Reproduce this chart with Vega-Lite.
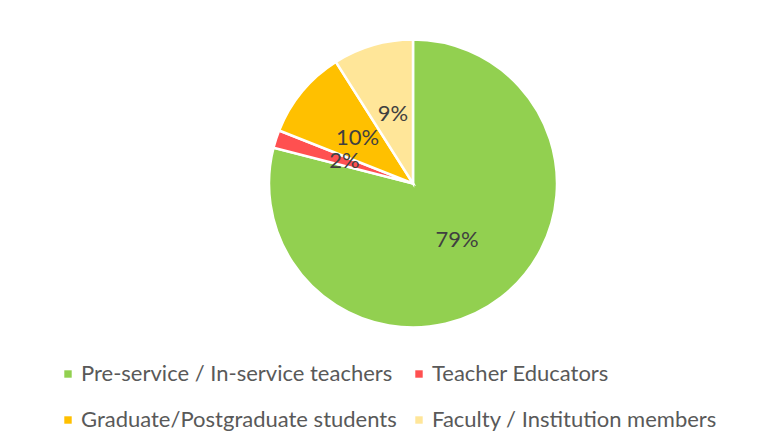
{
  "$schema": "https://vega.github.io/schema/vega-lite/v6.json",
  "width": 740,
  "height": 367,
  "autosize": {"type": "none"},
  "padding": {"left": 43, "top": 0, "right": 0, "bottom": 80},
  "background": "white",
  "config": {"view": {"stroke": null}, "font": "Lato"},
  "data": {
    "values": [
      {"category": "Pre-service / In-service teachers", "value": 79, "order": 1, "label": "79%"},
      {"category": "Teacher Educators", "value": 2, "order": 2, "label": "2%"},
      {"category": "Graduate/Postgraduate students", "value": 10, "order": 3, "label": "10%"},
      {"category": "Faculty / Institution members", "value": 9, "order": 4, "label": "9%"}
    ]
  },
  "encoding": {
    "theta": {"field": "value", "type": "quantitative", "stack": true},
    "order": {"field": "order", "type": "quantitative"},
    "color": {
      "field": "category",
      "type": "nominal",
      "scale": {
        "domain": ["Pre-service / In-service teachers", "Teacher Educators", "Graduate/Postgraduate students", "Faculty / Institution members"],
        "range": ["#92D050", "#FF5050", "#FFC000", "#FFE699"]
      },
      "legend": {
        "orient": "none",
        "legendX": 14,
        "legendY": 363,
        "columns": 2,
        "direction": "horizontal",
        "title": null,
        "symbolType": "square",
        "symbolSize": 55,
        "symbolStrokeWidth": 0,
        "labelFont": "Lato",
        "labelFontSize": 22,
        "labelColor": "#595959",
        "labelOffset": 2,
        "labelLimit": 500,
        "rowPadding": 24,
        "columnPadding": 11,
        "padding": 0
      }
    }
  },
  "layer": [
    {"mark": {"type": "arc", "outerRadius": 144, "stroke": "white", "strokeWidth": 2.5}},
    {
      "mark": {"type": "text", "radius": 72, "fontSize": 22, "font": "Lato"},
      "encoding": {
        "text": {"field": "label", "type": "nominal"},
        "color": {"value": "#404040"}
      }
    }
  ]
}
